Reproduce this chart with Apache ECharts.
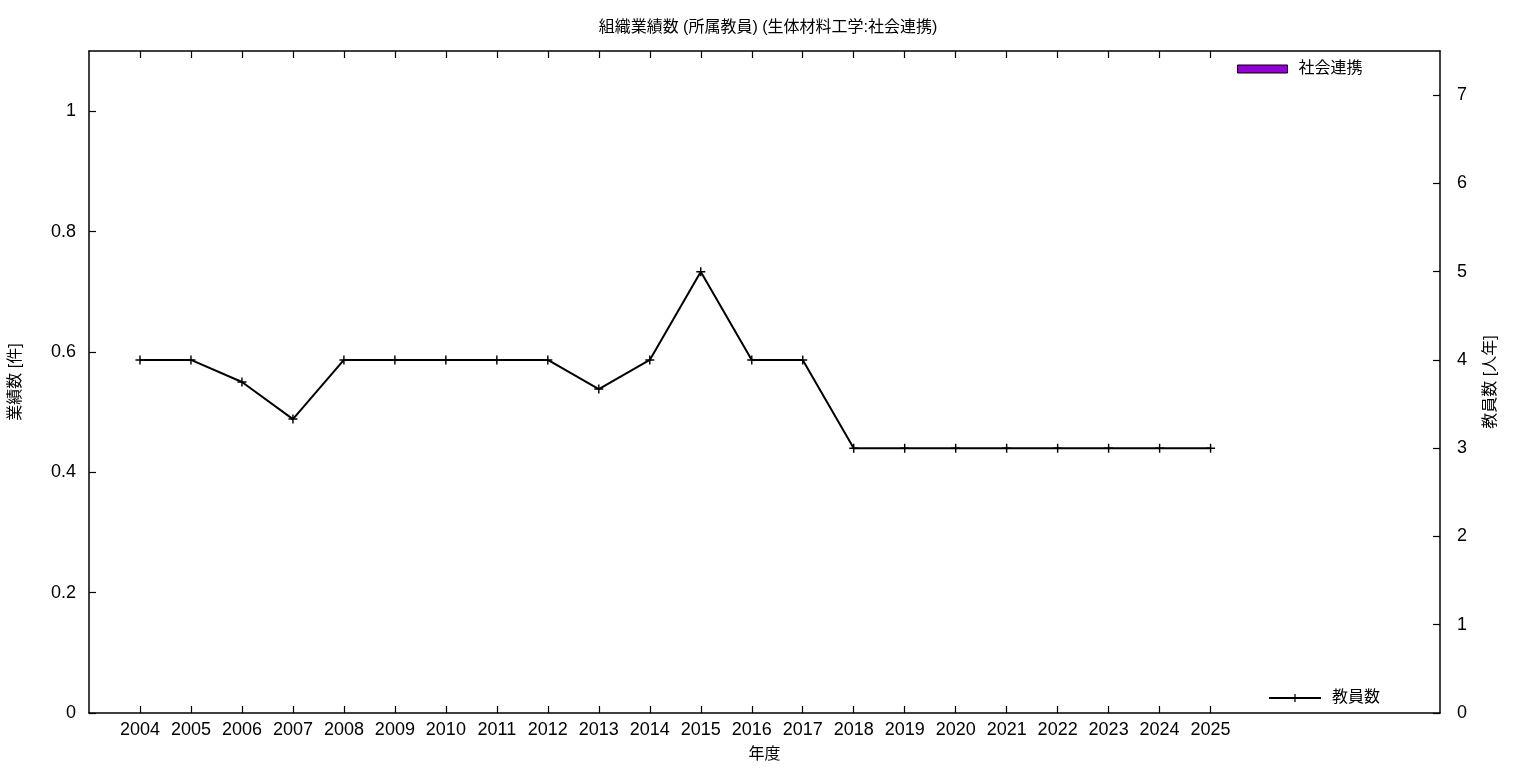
<!DOCTYPE html>
<html>
<head>
<meta charset="utf-8">
<script src="https://cdn.jsdelivr.net/npm/echarts@6/dist/echarts.min.js"></script>
<style>
html,body{margin:0;padding:0;background:#fff;}
#main{width:1536px;height:768px;}
</style>
</head>
<body>
<div id="main"></div>
<script>
const years = [2004,2005,2006,2007,2008,2009,2010,2011,2012,2013,2014,2015,2016,2017,2018,2019,2020,2021,2022,2023,2024,2025];
const socialValues = [0,0,0,0,0,0,0,0,0,0,0,0,0,0,0,0,0,0,0,0,0,0];
const facultyValues = [4,4,3.75,3.33,4,4,4,4,4,3.67,4,5,4,4,3,3,3,3,3,3,3,3];
const leftTicks = [0,0.2,0.4,0.6,0.8,1];
const rightTicks = [0,1,2,3,4,5,6,7];

const FONT = "'Liberation Sans','Noto Sans CJK JP',sans-serif";
const plus = 'path://M0,4.2H10V5.8H0ZM4.2,0H5.8V10H4.2Z';

const chart = echarts.init(document.getElementById('main'));
chart.setOption({
  animation: false,
  backgroundColor: '#fff',
  textStyle: {fontFamily: FONT, color: '#000'},
  title: {
    text: '組織業績数 (所属教員) (生体材料工学:社会連携)',
    left: 'center', top: 15,
    textStyle: {fontFamily: FONT, fontSize: 16, fontWeight: 'normal', color: '#000'}
  },
  grid: {left: 88, right: 96, top: 51, bottom: 55, containLabel: false},
  legend: [
    {
      data: [{name: '社会連携', icon: 'rect'}], left: 1237, top: 61, padding: 0,
      itemWidth: 50, itemHeight: 8,
      itemStyle: {borderColor: '#000', borderWidth: 1},
      textStyle: {fontFamily: FONT, fontSize: 16, color: '#000', padding: [0,0,0,6]}
    },
    {
      data: ['教員数'], left: 1268, top: 690, padding: 0,
      itemWidth: 52, itemHeight: 10,
      textStyle: {fontFamily: FONT, fontSize: 16, color: '#000', padding: [0,0,0,6]}
    }
  ],
  xAxis: [
    {
      type: 'value', min: 2003, max: 2029.5, interval: 1, position: 'bottom',
      name: '年度', nameLocation: 'middle', nameGap: 34,
      nameTextStyle: {fontFamily: FONT, fontSize: 16, color: '#000'},
      axisLine: {show: true, onZero: false, lineStyle: {color: '#000', width: 1.5}},
      axisTick: {show: true, inside: true, length: 7, lineStyle: {color: '#000', width: 1.2}, customValues: years},
      axisLabel: {show: true, color: '#000', fontSize: 18, fontFamily: FONT, margin: 8, customValues: years, formatter: v => String(v)},
      splitLine: {show: false}
    },
    {
      type: 'value', min: 2003, max: 2029.5, interval: 1, position: 'top',
      axisLine: {show: true, onZero: false, lineStyle: {color: '#000', width: 1.5}},
      axisTick: {show: true, inside: true, length: 7, lineStyle: {color: '#000', width: 1.2}, customValues: years},
      axisLabel: {show: false},
      splitLine: {show: false}
    }
  ],
  yAxis: [
    {
      type: 'value', min: 0, max: 1.1, interval: 0.2, position: 'left',
      name: '業績数 [件]', nameLocation: 'middle', nameGap: 65, nameRotate: 90,
      nameTextStyle: {fontFamily: FONT, fontSize: 16, color: '#000'},
      axisLine: {show: true, lineStyle: {color: '#000', width: 1.5}},
      axisTick: {show: true, inside: true, length: 7, lineStyle: {color: '#000', width: 1.2}, customValues: leftTicks},
      axisLabel: {color: '#000', fontSize: 18, fontFamily: FONT, margin: 13, customValues: leftTicks, formatter: v => String(+v.toFixed(1))},
      splitLine: {show: false}
    },
    {
      type: 'value', min: 0, max: 7.5, interval: 1, position: 'right',
      name: '教員数 [人年]', nameLocation: 'middle', nameGap: 43, nameRotate: 90,
      nameTextStyle: {fontFamily: FONT, fontSize: 16, color: '#000'},
      axisLine: {show: true, lineStyle: {color: '#000', width: 1.5}},
      axisTick: {show: true, inside: true, length: 7, lineStyle: {color: '#000', width: 1.2}, customValues: rightTicks},
      axisLabel: {color: '#000', fontSize: 18, fontFamily: FONT, margin: 17, customValues: rightTicks},
      splitLine: {show: false}
    }
  ],
  series: [
    {
      name: '社会連携', type: 'bar', xAxisIndex: 0, yAxisIndex: 0,
      barWidth: 30,
      itemStyle: {color: '#9400d3', borderWidth: 0},
      data: years.map((y, i) => [y, socialValues[i]])
    },
    {
      name: '教員数', type: 'line', xAxisIndex: 0, yAxisIndex: 1,
      symbol: plus, symbolSize: 9, showSymbol: true,
      lineStyle: {color: '#000', width: 2},
      itemStyle: {color: '#000'},
      data: years.map((y, i) => [y, facultyValues[i]])
    }
  ]
});
</script>
</body>
</html>
